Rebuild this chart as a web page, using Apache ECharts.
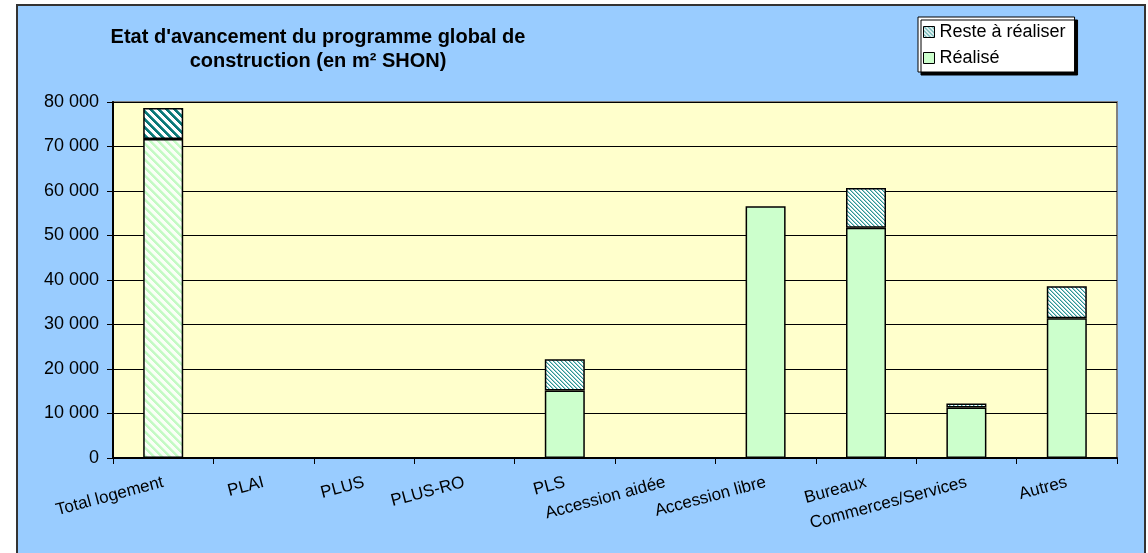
<!DOCTYPE html>
<html>
<head>
<meta charset="utf-8">
<script src="https://cdn.jsdelivr.net/npm/echarts@6/dist/echarts.min.js"></script>
<style>
  html, body { margin: 0; padding: 0; background: #ffffff; }
  #chart { width: 1148px; height: 553px; }
</style>
</head>
<body>
<div id="chart"></div>
<script>
// Programme categories and surfaces (m² SHON)
const categories = ['Total logement', 'PLAI', 'PLUS', 'PLUS-RO', 'PLS', 'Accession aidée', 'Accession libre', 'Bureaux', 'Commerces/Services', 'Autres'];
const realise = [71700, 0, 0, 0, 15150, 0, 56600, 51750, 11350, 31400];
const reste = [6950, 0, 0, 0, 7050, 0, 0, 8950, 900, 7200];
const seriesNames = ['Réalisé', 'Reste à réaliser'];
const titleText = "Etat d'avancement du programme global de\nconstruction (en m² SHON)";

const FONT = '"Liberation Sans", Arial, sans-serif';

// Diagonal hatch tile ("\" direction); shades[d] gives the colour at offset d along a stripe period
function hatch(size, shades, bg) {
  const c = document.createElement('canvas');
  c.width = size; c.height = size;
  const ctx = c.getContext('2d');
  ctx.fillStyle = bg;
  ctx.fillRect(0, 0, size, size);
  for (let y = 0; y < size; y++) {
    for (let x = 0; x < size; x++) {
      const d = ((x - y) % size + size) % size;
      if (shades[d]) { ctx.fillStyle = shades[d]; ctx.fillRect(x, y, 1, 1); }
    }
  }
  return { image: c, repeat: 'repeat' };
}

const fineHatch = hatch(4, ['#2F9494', '#9CD2D2'], '#ffffff');
const totalResteHatch = hatch(8, ['#0A7878', '#0A7878', '#0A7878', '#3C9A9A'], '#ffffff');
const totalRealiseHatch = hatch(8, ['#C4FAC4', '#C4FAC4', '#C4FAC4', '#DDFFDD'], '#FAFFF6');

const fmt = v => String(v).replace(/\B(?=(\d{3})+(?!\d))/g, ' ');
// empty stack segments are left undrawn
const drawn = v => (v === 0 ? '-' : v);

const chart = echarts.init(document.getElementById('chart'), null, { renderer: 'canvas' });

chart.setOption({
  animation: false,
  backgroundColor: '#ffffff',
  textStyle: { fontFamily: FONT },
  graphic: [
    {
      type: 'rect', z: -10, silent: true,
      shape: { x: 17, y: 5, width: 1128, height: 580 },
      style: { fill: '#99CCFF', stroke: '#333333', lineWidth: 2 }
    },
    {
      type: 'text', x: 318, y: 25, silent: true,
      style: {
        text: titleText, align: 'center', verticalAlign: 'top',
        fontFamily: FONT, fontSize: 20, fontWeight: 'bold', lineHeight: 24, fill: '#000000'
      }
    }
  ],
  legend: {
    data: [seriesNames[1], seriesNames[0]],
    orient: 'vertical',
    left: 918, top: 17,
    itemWidth: 11, itemHeight: 11, itemGap: 8,
    icon: 'rect',
    padding: [6, 9, 5, 5],
    backgroundColor: '#ffffff',
    borderColor: '#000000', borderWidth: 1,
    shadowColor: '#000000', shadowOffsetX: 3, shadowOffsetY: 3, shadowBlur: 0,
    selectedMode: false,
    itemStyle: { borderColor: '#000000', borderWidth: 1 },
    textStyle: { fontSize: 18, color: '#000000', fontFamily: FONT }
  },
  grid: {
    left: 113, right: 31, top: 102, bottom: 95,
    show: true, backgroundColor: '#FFFFCC', borderColor: '#808080', borderWidth: 2
  },
  xAxis: {
    type: 'category',
    data: categories,
    axisLine: { lineStyle: { color: '#000000', width: 2 } },
    axisTick: { show: true, length: 6, interval: 0, alignWithLabel: false, lineStyle: { color: '#000000' } },
    axisLabel: { interval: 0, rotate: 15, fontSize: 17, margin: 24, color: '#000000', fontFamily: FONT },
    splitLine: { show: false }
  },
  yAxis: {
    type: 'value',
    min: 0, max: 80000, interval: 10000,
    axisLine: { show: true, lineStyle: { color: '#000000', width: 2 } },
    axisTick: { show: true, length: 6, lineStyle: { color: '#000000' } },
    axisLabel: { fontSize: 18, margin: 14, color: '#000000', formatter: fmt, fontFamily: FONT },
    splitLine: { show: true, lineStyle: { color: '#000000', width: 1 } }
  },
  series: [
    {
      name: seriesNames[0], type: 'bar', stack: 'programme', barWidth: 40,
      itemStyle: { color: '#CCFFCC', borderColor: '#000000', borderWidth: 1.5 },
      emphasis: { disabled: true },
      data: realise.map((v, i) => i === 0 ? { value: v, itemStyle: { color: totalRealiseHatch } } : drawn(v))
    },
    {
      name: seriesNames[1], type: 'bar', stack: 'programme', barWidth: 40,
      itemStyle: { color: fineHatch, borderColor: '#000000', borderWidth: 1.5 },
      emphasis: { disabled: true },
      data: reste.map((v, i) => i === 0 ? { value: v, itemStyle: { color: totalResteHatch } } : drawn(v))
    }
  ]
});
</script>
</body>
</html>
